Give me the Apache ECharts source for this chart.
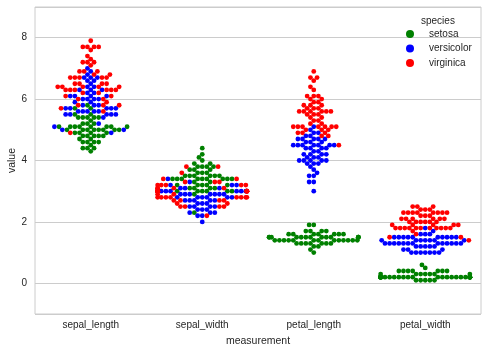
<!DOCTYPE html>
<html>
<head>
<meta charset="utf-8">
<title>Iris swarm</title>
<script src="https://cdn.jsdelivr.net/npm/echarts@6/dist/echarts.min.js"></script>
<style>
  html, body { margin: 0; padding: 0; background: #fff; }
  #chart { width: 488px; height: 352px; }
</style>
</head>
<body>
<div id="chart"></div>
<script>
// categories
const measurements = ['sepal_length', 'sepal_width', 'petal_length', 'petal_width'];
const species = ['setosa', 'versicolor', 'virginica'];
const speciesColors = ['#008000', '#0000ff', '#ff0000'];
const yTicks = [0, 2, 4, 6, 8];

// values per species and measurement
const setosaSepalLength = [5.1,4.9,4.7,4.6,5.0,5.4,4.6,5.0,4.4,4.9,5.4,4.8,4.8,4.3,5.8,5.7,5.4,5.1,5.7,5.1,5.4,5.1,4.6,5.1,4.8,5.0,5.0,5.2,5.2,4.7,4.8,5.4,5.2,5.5,4.9,5.0,5.5,4.9,4.4,5.1,5.0,4.5,4.4,5.0,5.1,4.8,5.1,4.6,5.3,5.0];
const setosaSepalWidth = [3.5,3.0,3.2,3.1,3.6,3.9,3.4,3.4,2.9,3.1,3.7,3.4,3.0,3.0,4.0,4.4,3.9,3.5,3.8,3.8,3.4,3.7,3.6,3.3,3.4,3.0,3.4,3.5,3.4,3.2,3.1,3.4,4.1,4.2,3.1,3.2,3.5,3.6,3.0,3.4,3.5,2.3,3.2,3.5,3.8,3.0,3.8,3.2,3.7,3.3];
const setosaPetalLength = [1.4,1.4,1.3,1.5,1.4,1.7,1.4,1.5,1.4,1.5,1.5,1.6,1.4,1.1,1.2,1.5,1.3,1.4,1.7,1.5,1.7,1.5,1.0,1.7,1.9,1.6,1.6,1.5,1.4,1.6,1.6,1.5,1.5,1.4,1.5,1.2,1.3,1.4,1.3,1.5,1.3,1.3,1.3,1.6,1.9,1.4,1.6,1.4,1.5,1.4];
const setosaPetalWidth = [0.2,0.2,0.2,0.2,0.2,0.4,0.3,0.2,0.2,0.1,0.2,0.2,0.1,0.1,0.2,0.4,0.4,0.3,0.3,0.3,0.2,0.4,0.2,0.5,0.2,0.2,0.4,0.2,0.2,0.2,0.2,0.4,0.1,0.2,0.2,0.2,0.2,0.1,0.2,0.2,0.3,0.3,0.2,0.6,0.4,0.3,0.2,0.2,0.2,0.2];

const versicolorSepalLength = [7.0,6.4,6.9,5.5,6.5,5.7,6.3,4.9,6.6,5.2,5.0,5.9,6.0,6.1,5.6,6.7,5.6,5.8,6.2,5.6,5.9,6.1,6.3,6.1,6.4,6.6,6.8,6.7,6.0,5.7,5.5,5.5,5.8,6.0,5.4,6.0,6.7,6.3,5.6,5.5,5.5,6.1,5.8,5.0,5.6,5.7,5.7,6.2,5.1,5.7];
const versicolorSepalWidth = [3.2,3.2,3.1,2.3,2.8,2.8,3.3,2.4,2.9,2.7,2.0,3.0,2.2,2.9,2.9,3.1,3.0,2.7,2.2,2.5,3.2,2.8,2.5,2.8,2.9,3.0,2.8,3.0,2.9,2.6,2.4,2.4,2.7,2.7,3.0,3.4,3.1,2.3,3.0,2.5,2.6,3.0,2.6,2.3,2.7,3.0,2.9,2.9,2.5,2.8];
const versicolorPetalLength = [4.7,4.5,4.9,4.0,4.6,4.5,4.7,3.3,4.6,3.9,3.5,4.2,4.0,4.7,3.6,4.4,4.5,4.1,4.5,3.9,4.8,4.0,4.9,4.7,4.3,4.4,4.8,5.0,4.5,3.5,3.8,3.7,3.9,5.1,4.5,4.5,4.7,4.4,4.1,4.0,4.4,4.6,4.0,3.3,4.2,4.2,4.2,4.3,3.0,4.1];
const versicolorPetalWidth = [1.4,1.5,1.5,1.3,1.5,1.3,1.6,1.0,1.3,1.4,1.0,1.5,1.0,1.4,1.3,1.4,1.5,1.0,1.5,1.1,1.8,1.3,1.5,1.2,1.3,1.4,1.4,1.7,1.5,1.0,1.1,1.0,1.2,1.6,1.5,1.6,1.5,1.3,1.3,1.3,1.2,1.4,1.2,1.0,1.3,1.2,1.3,1.3,1.1,1.3];

const virginicaSepalLength = [6.3,5.8,7.1,6.3,6.5,7.6,4.9,7.3,6.7,7.2,6.5,6.4,6.8,5.7,5.8,6.4,6.5,7.7,7.7,6.0,6.9,5.6,7.7,6.3,6.7,7.2,6.2,6.1,6.4,7.2,7.4,7.9,6.4,6.3,6.1,7.7,6.3,6.4,6.0,6.9,6.7,6.9,5.8,6.8,6.7,6.7,6.3,6.5,6.2,5.9];
const virginicaSepalWidth = [3.3,2.7,3.0,2.9,3.0,3.0,2.5,2.9,2.5,3.6,3.2,2.7,3.0,2.5,2.8,3.2,3.0,3.8,2.6,2.2,3.2,2.8,2.8,2.7,3.3,3.2,2.8,3.0,2.8,3.0,2.8,3.8,2.8,2.8,2.6,3.0,3.4,3.1,3.0,3.1,3.1,3.1,2.7,3.2,3.3,3.0,2.5,3.0,3.4,3.0];
const virginicaPetalLength = [6.0,5.1,5.9,5.6,5.8,6.6,4.5,6.3,5.8,6.1,5.1,5.3,5.5,5.0,5.1,5.3,5.5,6.7,6.9,5.0,5.7,4.9,6.7,4.9,5.7,6.0,4.8,4.9,5.6,5.8,6.1,6.4,5.6,5.1,5.6,6.1,5.6,5.5,4.8,5.4,5.6,5.1,5.1,5.9,5.7,5.2,5.0,5.2,5.4,5.1];
const virginicaPetalWidth = [2.5,1.9,2.1,1.8,2.2,2.1,1.7,1.8,1.8,2.5,2.0,1.9,2.1,2.0,2.4,2.3,1.8,2.2,2.3,1.5,2.3,2.0,2.0,1.8,2.1,1.8,1.8,1.8,2.1,1.6,1.9,2.0,2.2,1.5,1.4,2.3,2.4,1.8,1.8,2.1,2.4,2.3,1.9,2.3,2.5,2.3,1.9,2.0,2.3,1.8];

const valuesBySpecies = [
  [setosaSepalLength, setosaSepalWidth, setosaPetalLength, setosaPetalWidth],
  [versicolorSepalLength, versicolorSepalWidth, versicolorPetalLength, versicolorPetalWidth],
  [virginicaSepalLength, virginicaSepalWidth, virginicaPetalLength, virginicaPetalWidth]
];

const FONT = 'Liberation Sans, Arial, sans-serif';
const TEXT = '#262626';
const DOT = 4.8;      // marker diameter, px
const GAP = 4.4;      // swarm spacing, px
const HALF_WIDTH = 0.4; // gutter, in category units

const chart = echarts.init(document.getElementById('chart'));

chart.setOption({
  animation: false,
  backgroundColor: '#fff',
  grid: {
    left: 35, right: 7, top: 7, bottom: 38, containLabel: false, outerBoundsMode: 'none',
    show: true, borderColor: '#cccccc', borderWidth: 1
  },
  title: {
    text: 'species', left: 416, top: 11,
    textStyle: { fontSize: 10, fontWeight: 'normal', color: TEXT, fontFamily: FONT }
  },
  legend: {
    orient: 'vertical', left: 401, top: 24,
    itemWidth: 8, itemHeight: 8, itemGap: 4.5, icon: 'circle',
    textStyle: { fontSize: 10, color: TEXT, fontFamily: FONT, padding: [0, 0, 0, 10] },
    data: species
  },
  xAxis: [
    {
      type: 'category', data: measurements,
      name: 'measurement', nameLocation: 'middle', nameGap: 22,
      nameTextStyle: { fontSize: 10.5, color: TEXT, fontFamily: FONT },
      axisLine: { show: false }, axisTick: { show: false }, splitLine: { show: false },
      axisLabel: { fontSize: 10, color: TEXT, fontFamily: FONT, margin: 6 }
    },
    { type: 'value', min: -0.5, max: 3.5, show: false }
  ],
  yAxis: {
    type: 'value', min: -1, max: 9, splitNumber: 5,
    name: 'value', nameLocation: 'middle', nameGap: 17, nameMoveOverlap: false,
    nameTextStyle: { fontSize: 10.5, color: TEXT, fontFamily: FONT },
    axisLine: { show: false }, axisTick: { show: false },
    axisLabel: { customValues: yTicks, fontSize: 10, color: TEXT, fontFamily: FONT, margin: 8 },
    splitLine: { lineStyle: { color: '#cccccc', width: 1 } }
  },
  series: species.map((s, k) => ({
    name: s, type: 'scatter', xAxisIndex: 1, data: [],
    symbolSize: DOT, itemStyle: { color: speciesColors[k], opacity: 1 }
  }))
});

// pixel scales from the library's axes
const pxPerY = Math.abs(chart.convertToPixel({ yAxisIndex: 0 }, 1) - chart.convertToPixel({ yAxisIndex: 0 }, 0));
const pxPerX = Math.abs(chart.convertToPixel({ xAxisIndex: 1 }, 1) - chart.convertToPixel({ xAxisIndex: 1 }, 0));

// beeswarm placement (offsets in px), in the manner of seaborn's swarmplot
function swarm(ys, d) {
  const order = ys.map((y, i) => i).sort((a, b) => ys[a] - ys[b]);
  const placed = [];
  const xs = new Array(ys.length);
  order.forEach(i => {
    const y = ys[i];
    const neighbors = placed.filter(q => Math.abs(q.y - y) < d);
    const cands = [0];
    neighbors.forEach(q => {
      const dx = Math.sqrt(d * d - (q.y - y) * (q.y - y)) * 1.05;
      cands.push(q.x - dx, q.x + dx);
    });
    cands.sort((a, b) => Math.abs(a) - Math.abs(b));
    let x = cands.find(c => neighbors.every(q => (c - q.x) ** 2 + (y - q.y) ** 2 >= d * d - 1e-6));
    if (x === undefined) x = 0;
    placed.push({ x, y });
    xs[i] = x;
  });
  return xs;
}

const seriesData = species.map(() => []);
measurements.forEach((m, c) => {
  const vals = [], who = [];
  species.forEach((s, k) => valuesBySpecies[k][c].forEach(v => { vals.push(v); who.push(k); }));
  const offs = swarm(vals.map(v => v * pxPerY), GAP);
  const lim = HALF_WIDTH * pxPerX;
  vals.forEach((v, i) => {
    const off = Math.max(-lim, Math.min(lim, offs[i]));
    seriesData[who[i]].push([c + off / pxPerX, v]);
  });
});

chart.setOption({ series: species.map((s, k) => ({ name: s, data: seriesData[k] })) });
</script>
</body>
</html>
